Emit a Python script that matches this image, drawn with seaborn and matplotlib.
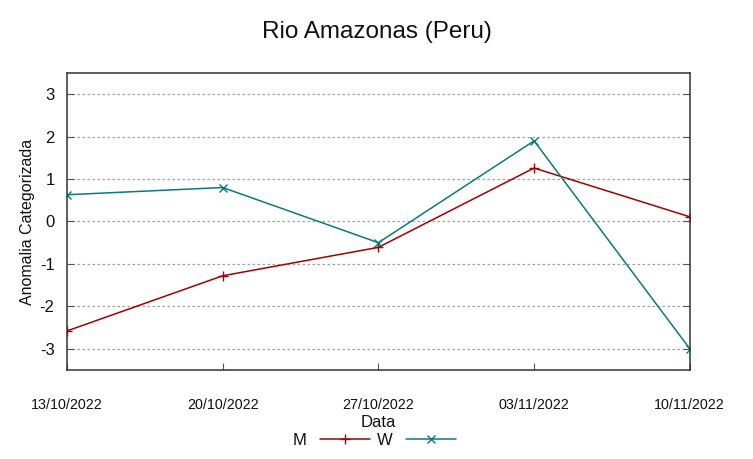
import matplotlib
matplotlib.use("Agg")
import matplotlib.pyplot as plt
import matplotlib.transforms as mtransforms
import seaborn as sns
import pandas as pd

# values
dates = ["13/10/2022", "20/10/2022", "27/10/2022", "03/11/2022", "10/11/2022"]
m_vals = [-2.58, -1.28, -0.61, 1.26, 0.11]
w_vals = [0.63, 0.80, -0.50, 1.90, -3.00]
y_ticks = [-3, -2, -1, 0, 1, 2, 3]

sns.set_style("white")
plt.rcParams['font.family'] = ['Liberation Sans', 'DejaVu Sans']
plt.rcParams['text.color'] = '#111111'
plt.rcParams['axes.labelcolor'] = '#111111'
plt.rcParams['xtick.labelcolor'] = '#111111'
plt.rcParams['ytick.labelcolor'] = '#111111'

df = pd.DataFrame({"pos": range(len(dates)), "Data": dates, "M": m_vals, "W": w_vals})

fig, ax = plt.subplots(figsize=(7.53, 4.59), dpi=100)
fig.subplots_adjust(left=0.089, right=0.916, top=0.841, bottom=0.194)

red = "#a40000"
teal = "#0a7a7a"
sns.lineplot(x="pos", y="M", data=df, ax=ax, color=red, marker="+",
             markersize=7, markeredgewidth=1.0, markeredgecolor=red,
             linewidth=1.1, label="M")
sns.lineplot(x="pos", y="W", data=df, ax=ax, color=teal, marker="x",
             markersize=6, markeredgewidth=1.0, markeredgecolor=teal,
             linewidth=1.1, label="W")

ax.set_xlim(0, len(dates) - 1)
ax.set_ylim(-3.5, 3.5)
ax.set_yticks(y_ticks)
ax.set_xticks(range(len(dates)))
ax.set_xticklabels(dates, fontsize=10.3)
ax.set_yticklabels([str(t) for t in y_ticks], fontsize=12)

offset = mtransforms.ScaledTranslation(8 / 100, 0, fig.dpi_scale_trans)
for lbl in ax.get_xticklabels():
    lbl.set_transform(lbl.get_transform() + offset)

ax.tick_params(axis="x", direction="in", length=5, pad=20, top=False, bottom=True, color="#555555")
ax.tick_params(axis="y", direction="in", length=5, pad=9, left=True, right=True, color="#555555")

ax.yaxis.grid(True, color="#a0a0a0", linestyle=(0, (2, 2)), linewidth=0.9)
ax.xaxis.grid(False)
for s in ax.spines.values():
    s.set_color("#333333")
    s.set_linewidth(1.1)

ax.set_xlabel("Data", fontsize=12, labelpad=2)
ax.set_ylabel("Anomalia Categorizada", fontsize=11.5, labelpad=3)
fig.suptitle("Rio Amazonas (Peru)", fontsize=17.5, y=0.955)

handles, labels = ax.get_legend_handles_labels()
ax.get_legend().remove()
fig.legend(handles, labels, loc="center", bbox_to_anchor=(0.497, 0.04), ncol=2,
           frameon=False, markerfirst=False, handlelength=3.0, columnspacing=0.4,
           handletextpad=0.8, fontsize=12)

fig.savefig("out.png", dpi=100)
